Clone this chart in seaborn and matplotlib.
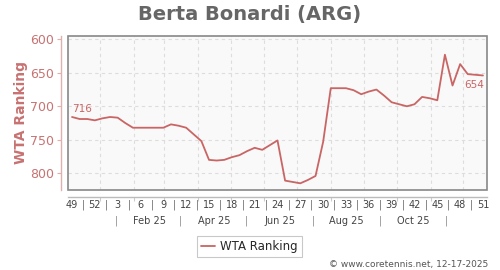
import datetime as dt
import matplotlib
matplotlib.use("Agg")
import matplotlib.pyplot as plt
import numpy as np
import pandas as pd
import seaborn as sns
from matplotlib.patches import Rectangle
from matplotlib.transforms import blended_transform_factory

# ---------------- data ----------------
ranks = [716, 719, 719, 721, 718, 716, 717, 725, 732, 732,
         732, 732, 732, 727, 729, 732, 742, 752, 780, 781,
         780, 776, 773, 767, 762, 765, 758, 751, 811, 813,
         815, 810, 804, 753, 673, 673, 673, 676, 682, 678,
         675, 684, 694, 697, 700, 697, 686, 688, 691, 623,
         669, 637, 652, 653, 654]
week_labels = ["49", "52", "3", "6", "9", "12", "15", "18", "21", "24",
               "27", "30", "33", "36", "39", "42", "45", "48", "51"]
month_labels = ["Feb 25", "Apr 25", "Jun 25", "Aug 25", "Oct 25"]
y_ticks = [600, 650, 700, 750, 800]
series_name = "WTA Ranking"
title = "Berta Bonardi (ARG)"
footer = "\u00a9 www.coretennis.net, 12-17-2025"

# ---------------- layout ----------------
origin = dt.date(2024, 12, 6)


def wk(d):
    return (d - origin).days / 7.0


df = pd.DataFrame({"week": np.arange(len(ranks)), series_name: ranks})

sns.set_style("white")
plt.rcParams["font.family"] = ["DejaVu Sans"]

line_col = "#c96565"
pink = "#c87272"

fig = plt.figure(figsize=(5.0, 2.7), dpi=100)
ax = fig.add_axes([0.1366, 0.2963, 0.838, 0.5715])
ax.set_facecolor("#f9f9f9")

sns.lineplot(data=df, x="week", y=series_name, ax=ax, color=line_col,
             linewidth=1.3, label=series_name, legend=False)

ax.set_xlim(-0.49, 54.57)
ax.set_ylim(825, 594.6)

# grid
month_starts = [dt.date(2025, m, 1) for m in range(1, 13)]
for d in month_starts:
    ax.axvline(wk(d), color="#dddddd", lw=0.8, ls=(0, (3, 3)), zorder=0)
for v in y_ticks:
    ax.axhline(v, color="#dddddd", lw=0.8, ls=(0, (3, 3)), zorder=0)

# frame
ax.add_patch(Rectangle((0, 0), 1, 1, transform=ax.transAxes, fill=False,
                       edgecolor="#888888", lw=1.2, zorder=5, clip_on=False))

for s in ["top", "right"]:
    ax.spines[s].set_visible(False)
ax.spines["left"].set_position(("outward", 5))
ax.spines["left"].set_color("#e0b0b0")
ax.spines["left"].set_linewidth(1.0)
ax.spines["bottom"].set_position(("outward", 5))
ax.spines["bottom"].set_color("#bbbbbb")
ax.spines["bottom"].set_linewidth(1.0)

ax.set_yticks(y_ticks)
ax.tick_params(axis="y", colors="#e0b0b0", labelcolor=pink, labelsize=9,
               length=3, width=0.8, left=True, pad=2)
ax.set_xticks([wk(d) for d in month_starts])
ax.set_xticklabels([])
ax.tick_params(axis="x", colors="#cccccc", length=3, width=0.8, bottom=True)
ax.set_xlabel("")
ax.set_ylabel(series_name, color=pink, fontsize=10, fontweight="bold")
ax.yaxis.set_label_coords(-0.097, 0.5)

# week label row
tr = blended_transform_factory(ax.transData, ax.transAxes)
row1 = -0.097
row2 = -0.201
for k, lab in enumerate(week_labels):
    ax.text(3 * k, row1, lab, transform=tr, ha="center", va="center",
            fontsize=7, color="#444444")
    if k < len(week_labels) - 1:
        ax.text(3 * k + 1.5, row1, "|", transform=tr, ha="center",
                va="center", fontsize=7, color="#666666")

# month label row
mid = lambda y, m: wk(dt.date(y, m, 1)) + 2.1
for lab, m in zip(month_labels, [2, 4, 6, 8, 10]):
    ax.text(mid(2025, m), row2, lab, transform=tr, ha="center", va="center",
            fontsize=7, color="#444444")
for m in [1, 3, 5, 7, 9, 11]:
    ax.text(mid(2025, m), row2, "|", transform=tr, ha="center", va="center",
            fontsize=7, color="#888888")

# end annotations
ax.annotate(str(ranks[0]), (0, ranks[0]), xytext=(0, 2),
            textcoords="offset points", ha="left", va="bottom",
            fontsize=7.5, color=line_col)
ax.annotate(str(ranks[-1]), (len(ranks) - 1, ranks[-1]), xytext=(1, -3),
            textcoords="offset points", ha="right", va="top",
            fontsize=7.5, color=line_col)

fig.text(0.5, 0.948, title, ha="center", va="center", fontsize=14,
         fontweight="bold", color="#666666")

leg = fig.legend(handles=ax.get_lines()[:1], labels=[series_name],
                 loc="center", bbox_to_anchor=(0.499, 0.086), fontsize=8.5,
                 frameon=True, fancybox=False, handlelength=1.2,
                 handletextpad=0.4, borderpad=0.35, edgecolor="#bbbbbb")
leg.get_frame().set_linewidth(0.8)

fig.text(0.976, 0.022, footer, ha="right", va="center", fontsize=6.5,
         color="#555555")

fig.savefig("out.png", dpi=100)
